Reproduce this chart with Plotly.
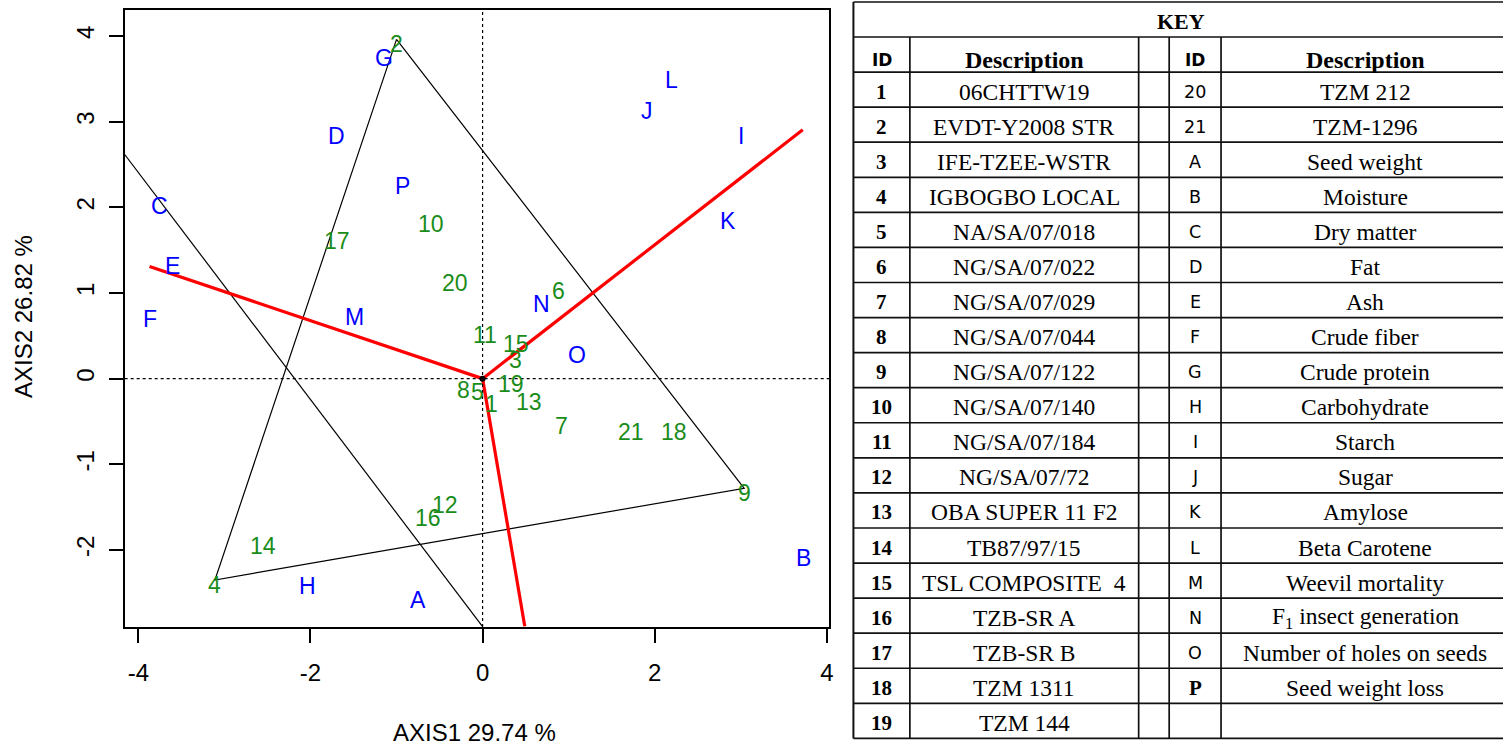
import plotly.graph_objects as go

W, H = 1503, 747

# ---- biplot scores -------------------------------------------------------
geno_ids = [str(i) for i in range(1, 22)]
geno_x = [0.10, -1.00, 0.38, -3.11, -0.06, 0.88, 0.92, -0.22, 3.04, -0.60, 0.03,
          -0.44, 0.54, -2.55, 0.39, -0.64, -1.69, 2.22, 0.33, -0.32, 1.72]
geno_y = [-0.24, 3.96, 0.28, -2.35, -0.10, 1.08, -0.50, -0.07, -1.28, 1.86, 0.57,
          -1.42, -0.21, -1.89, 0.46, -1.57, 1.67, -0.57, 0.00, 1.17, -0.57]

trait_ids = list("ABCDEFGHIJKLMNOP")
trait_x = [-0.745, 3.73, -3.75, -1.70, -3.60, -3.87, -1.15, -2.03, 3.00, 1.91,
           2.85, 2.19, -1.49, 0.69, 1.10, -0.93]
trait_y = [-2.53, -2.03, 2.07, 2.89, 1.37, 0.75, 3.80, -2.36, 2.89, 3.18,
           1.90, 3.55, 0.78, 0.935, 0.34, 2.31]

# vertices of the convex hull of genotypes
hull_ids = ["2", "9", "4"]

# rays from the biplot origin
origin = (0.0, 0.0)
ray_end_x = [-3.87, 3.72, 0.49]
ray_end_y = [1.31, 2.905, -2.89]

# extra boundary line
boundary_x = [-4.165, 0.0]
boundary_y = [2.625, -2.894]

x_title = "AXIS1 29.74 %"
y_title = "AXIS2 26.82 %"
x_ticks = [-4, -2, 0, 2, 4]
x_ticktext = ["-4", "-2", "0", "2", "4"]
y_ticks = [-2, -1, 0, 1, 2, 3, 4]
y_ticktext = ["-2", "-1", "0", "1", "2", "3", "4"]

# ---- key table -----------------------------------------------------------
left_ids = [str(i) for i in range(1, 20)]
left_desc = ["06CHTTW19", "EVDT-Y2008 STR", "IFE-TZEE-WSTR", "IGBOGBO LOCAL",
             "NA/SA/07/018", "NG/SA/07/022", "NG/SA/07/029", "NG/SA/07/044",
             "NG/SA/07/122", "NG/SA/07/140", "NG/SA/07/184", "NG/SA/07/72",
             "OBA SUPER 11 F2", "TB87/97/15", "TSL COMPOSITE  4", "TZB-SR A",
             "TZB-SR B", "TZM 1311", "TZM 144"]
right_ids = ["20", "21"] + trait_ids + [""]
right_desc = ["TZM 212", "TZM-1296", "Seed weight", "Moisture", "Dry matter", "Fat",
              "Ash", "Crude fiber", "Crude protein", "Carbohydrate", "Starch",
              "Sugar", "Amylose", "Beta Carotene", "Weevil mortality",
              "F<sub>1</sub> insect generation", "Number of holes on seeds",
              "Seed weight loss", ""]

SANS = "Liberation Sans, Arial, sans-serif"
SERIF = "Liberation Serif, Times New Roman, serif"
GREEN = "#1a8c1a"
BLUE = "#0000ff"

fig = go.Figure()

# dotted reference lines through the origin
fig.add_shape(type="line", xref="x", yref="y domain", x0=origin[0], x1=origin[0], y0=0, y1=1,
              line=dict(color="black", width=1.2, dash="dot"))
fig.add_shape(type="line", xref="x domain", yref="y", x0=0, x1=1, y0=origin[1], y1=origin[1],
              line=dict(color="black", width=1.2, dash="dot"))

# polygon joining the hull genotypes
hx = [geno_x[geno_ids.index(g)] for g in hull_ids]
hy = [geno_y[geno_ids.index(g)] for g in hull_ids]
fig.add_trace(go.Scatter(x=hx + hx[:1], y=hy + hy[:1], mode="lines",
                         line=dict(color="black", width=1.2), hoverinfo="skip"))

fig.add_trace(go.Scatter(x=boundary_x, y=boundary_y, mode="lines",
                         line=dict(color="black", width=1.2), hoverinfo="skip"))

# red rays
for ex, ey in zip(ray_end_x, ray_end_y):
    fig.add_trace(go.Scatter(x=[origin[0], ex], y=[origin[1], ey], mode="lines",
                             line=dict(color="#ff0000", width=3.2), hoverinfo="skip"))

fig.add_trace(go.Scatter(x=[origin[0]], y=[origin[1]], mode="markers",
                         marker=dict(color="black", size=6, symbol="circle"),
                         hoverinfo="skip"))

# point labels
LABEL_SHIFT = -5
for gid, gx, gy in zip(geno_ids, geno_x, geno_y):
    fig.add_annotation(x=gx, y=gy, xref="x", yref="y", text=gid, showarrow=False,
                       xanchor="center", yanchor="middle", yshift=LABEL_SHIFT,
                       font=dict(family=SANS, size=23, color=GREEN))
for tid, tx, ty in zip(trait_ids, trait_x, trait_y):
    fig.add_annotation(x=tx, y=ty, xref="x", yref="y", text=tid, showarrow=False,
                       xanchor="center", yanchor="middle", yshift=LABEL_SHIFT,
                       font=dict(family=SANS, size=23, color=BLUE))


def px(x):
    return x / W


def py(y):
    return 1 - y / H


# axis titles
fig.add_annotation(x=px(476), y=py(732), xref="paper", yref="paper", text=x_title,
                   xanchor="center", yanchor="middle", showarrow=False,
                   font=dict(family=SANS, size=24, color="black"))
fig.add_annotation(x=px(24), y=py(316), xref="paper", yref="paper", text=y_title,
                   xanchor="center", yanchor="middle", textangle=-90, showarrow=False,
                   font=dict(family=SANS, size=24, color="black"))

# ---- table geometry ------------------------------------------------------
T_LEFT, T_RIGHT, T_TOP = 855.7, 1513.0, 2.0
ROW0, ROW_H = 37.0, 35.07
n_rows = len(left_ids) + 1
col_edges = [912.3, 1141.7, 1172.3, 1224.3]
T_BOTTOM = ROW0 + ROW_H * n_rows
LINE = dict(color="#111111", width=1.7)

fig.add_shape(type="line", xref="paper", yref="paper", x0=px(T_LEFT), x1=px(T_RIGHT),
              y0=py(T_TOP), y1=py(T_TOP), line=LINE)
for k in range(n_rows + 1):
    yy = ROW0 + ROW_H * k
    fig.add_shape(type="line", xref="paper", yref="paper", x0=px(T_LEFT), x1=px(T_RIGHT),
                  y0=py(yy), y1=py(yy), line=LINE)
fig.add_shape(type="line", xref="paper", yref="paper", x0=px(T_LEFT), x1=px(T_LEFT),
              y0=py(T_TOP), y1=py(T_BOTTOM), line=dict(color="#111111", width=2))
for xe in col_edges:
    fig.add_shape(type="line", xref="paper", yref="paper", x0=px(xe), x1=px(xe),
                  y0=py(ROW0), y1=py(T_BOTTOM), line=LINE)

c_id1 = (T_LEFT + col_edges[0]) / 2
c_desc1 = (col_edges[0] + col_edges[1]) / 2
c_id2 = (col_edges[2] + col_edges[3]) / 2
c_desc2 = (col_edges[3] + T_RIGHT) / 2


def cell(x, y, text, family, size, bold=False, shift=-2):
    if not text:
        return
    if bold:
        text = "<b>" + text + "</b>"
    fig.add_annotation(x=px(x), y=py(y), xref="paper", yref="paper", text=text,
                       xanchor="center", yanchor="middle",
                       showarrow=False, yshift=shift,
                       font=dict(family=family, size=size, color="black"))


cell((T_LEFT + T_RIGHT) / 2, (T_TOP + ROW0) / 2 + 1, "KEY", SERIF, 22, bold=True, shift=-1)
hy0 = ROW0 + ROW_H / 2
cell(c_id1, hy0, "ID", "DejaVu Sans", 17, bold=True, shift=-5)
cell(c_desc1, hy0, "Description", SERIF, 24, bold=True, shift=-5)
cell(c_id2, hy0, "ID", "DejaVu Sans", 17, bold=True, shift=-5)
cell(c_desc2, hy0, "Description", SERIF, 24, bold=True, shift=-5)

for i, (lid, ld, rid, rd) in enumerate(zip(left_ids, left_desc, right_ids, right_desc)):
    yc = ROW0 + ROW_H * (i + 1.5)
    cell(c_id1, yc, lid, SERIF, 21, bold=True)
    cell(c_desc1, yc, ld, SERIF, 23.5)
    if rid == "P":
        cell(c_id2, yc, rid, SERIF, 21, bold=True)
    else:
        cell(c_id2, yc, rid, "DejaVu Sans", 17.5)
    cell(c_desc2, yc, rd, SERIF, 23.5)

axis_common = dict(showgrid=False, zeroline=False, showline=True, mirror=True,
                   linecolor="black", linewidth=1.5, ticks="outside", ticklen=14,
                   tickwidth=1.5, tickcolor="black",
                   tickfont=dict(family=SANS, size=24, color="black"))

fig.update_layout(
    width=W, height=H,
    margin=dict(l=0, r=0, t=0, b=0),
    paper_bgcolor="white", plot_bgcolor="white",
    showlegend=False,
    xaxis=dict(domain=[125 / W, 831.7 / W], range=[-4.159, 4.031],
               tickvals=x_ticks, ticktext=x_ticktext, ticklabelstandoff=9,
               **axis_common),
    yaxis=dict(domain=[1 - 627 / H, 1 - 10 / H], range=[-2.899, 4.303],
               tickvals=y_ticks, ticktext=y_ticktext, tickangle=-90,
               ticklabelstandoff=5, **axis_common),
)

fig.write_html("out.html")
